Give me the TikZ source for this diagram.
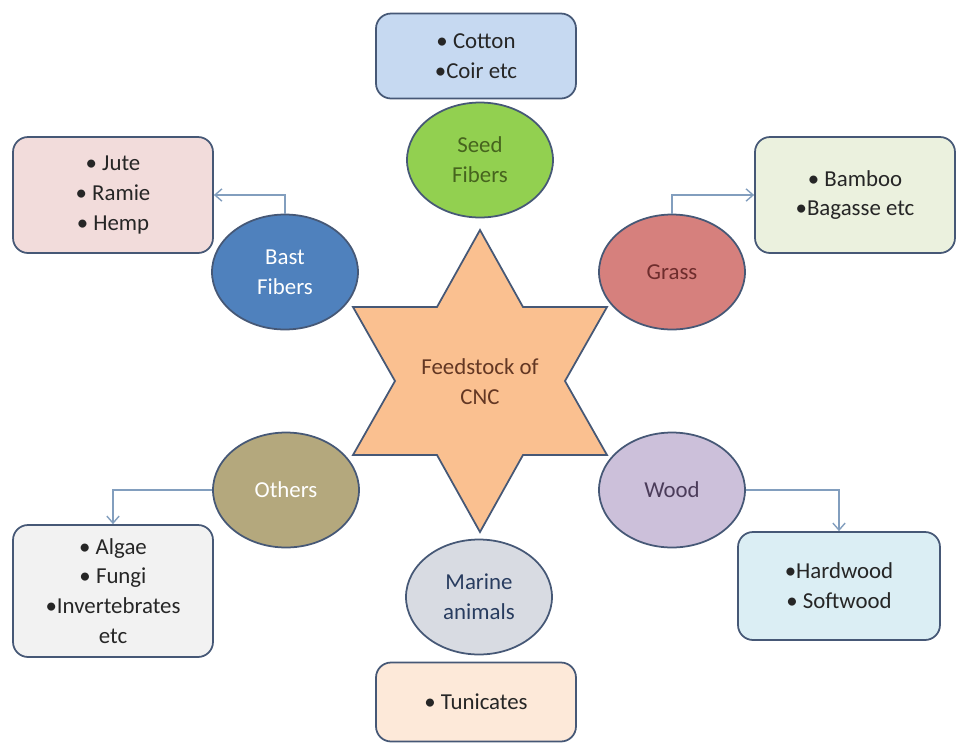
\documentclass[tikz,border=0pt]{standalone}
\usepackage{fontspec}
\setmainfont{Carlito}
\usetikzlibrary{arrows.meta,shapes.geometric}

\definecolor{edgec}{RGB}{70,88,118}
\definecolor{linkc}{RGB}{130,158,190}
\definecolor{starc}{RGB}{250,192,144}
\definecolor{startext}{RGB}{99,55,35}
\definecolor{seedc}{RGB}{146,208,80}
\definecolor{seedtext}{RGB}{70,100,30}
\definecolor{bastc}{RGB}{79,129,189}
\definecolor{grassc}{RGB}{214,128,125}
\definecolor{grasstext}{RGB}{110,45,45}
\definecolor{othersc}{RGB}{180,168,125}
\definecolor{woodc}{RGB}{204,192,218}
\definecolor{woodtext}{RGB}{75,60,90}
\definecolor{marinec}{RGB}{216,219,226}
\definecolor{marinetext}{RGB}{40,60,95}
\definecolor{cottonc}{RGB}{198,217,241}
\definecolor{jutec}{RGB}{242,220,219}
\definecolor{bambooc}{RGB}{235,241,222}
\definecolor{algaec}{RGB}{242,242,242}
\definecolor{hardc}{RGB}{219,238,244}
\definecolor{tunicc}{RGB}{253,233,217}

\begin{document}
\begin{tikzpicture}[x=0.02cm, y=-0.02cm,
  font=\fontsize{13}{17}\selectfont,
  box/.style={draw=edgec, line width=1pt, rounded corners=0.3cm, minimum width=4cm, align=center, text=black!85},
  kind/.style={draw=edgec, line width=1pt, ellipse, minimum width=2.92cm, minimum height=2.3cm, inner sep=0pt, align=center},
  link/.style={draw=linkc, line width=0.8pt, -{Straight Barb[length=4pt,width=7pt]}}]
\useasboundingbox (0,0) rectangle (965,752);

% the star in the middle
\filldraw[fill=starc, draw=edgec, line width=1pt]
  (480,230) -- (523,307) -- (607,307) -- (565,381) -- (607,455) -- (523,455)
  -- (480,532) -- (437,455) -- (353,455) -- (395,381) -- (353,307) -- (437,307) -- cycle;
\node[align=center, text=startext] (cnc) at (480,382) {Feedstock of\\CNC};

% kinds of fibre
\node[kind, fill=seedc, text=seedtext] (seed) at (480,160) {Seed\\Fibers};
\node[kind, fill=bastc, text=white] (bast) at (285,272) {Bast\\Fibers};
\node[kind, fill=grassc, text=grasstext] (grass) at (672,272) {Grass};
\node[kind, fill=othersc, text=white] (others) at (286,490) {Others};
\node[kind, fill=woodc, text=woodtext] (wood) at (672,490) {Wood};
\node[kind, fill=marinec, text=marinetext] (marine) at (479,597) {Marine\\animals};

% examples
\node[box, fill=cottonc, minimum height=1.7cm] (cotton) at (476,56) {• Cotton\\•Coir etc};
\node[box, fill=jutec, minimum height=2.32cm] (jute) at (113,195) {• Jute\\• Ramie\\• Hemp};
\node[box, fill=bambooc, minimum height=2.32cm] (bamboo) at (855,195) {• Bamboo\\•Bagasse etc};
\node[box, fill=algaec, minimum height=2.64cm] (algae) at (113,591) {• Algae\\• Fungi\\•Invertebrates\\etc};
\node[box, fill=hardc, minimum height=2.16cm, minimum width=4.04cm] (hard) at (839,586) {•Hardwood\\• Softwood};
\node[box, fill=tunicc, minimum height=1.58cm] (tunic) at (476,702) {• Tunicates};

\draw[link] (bast.north) |- (jute.east);
\draw[link] (grass.north) |- (bamboo.west);
\draw[link] (others.west) -| (algae.north);
\draw[link] (wood.east) -| (hard.north);
\end{tikzpicture}
\end{document}
